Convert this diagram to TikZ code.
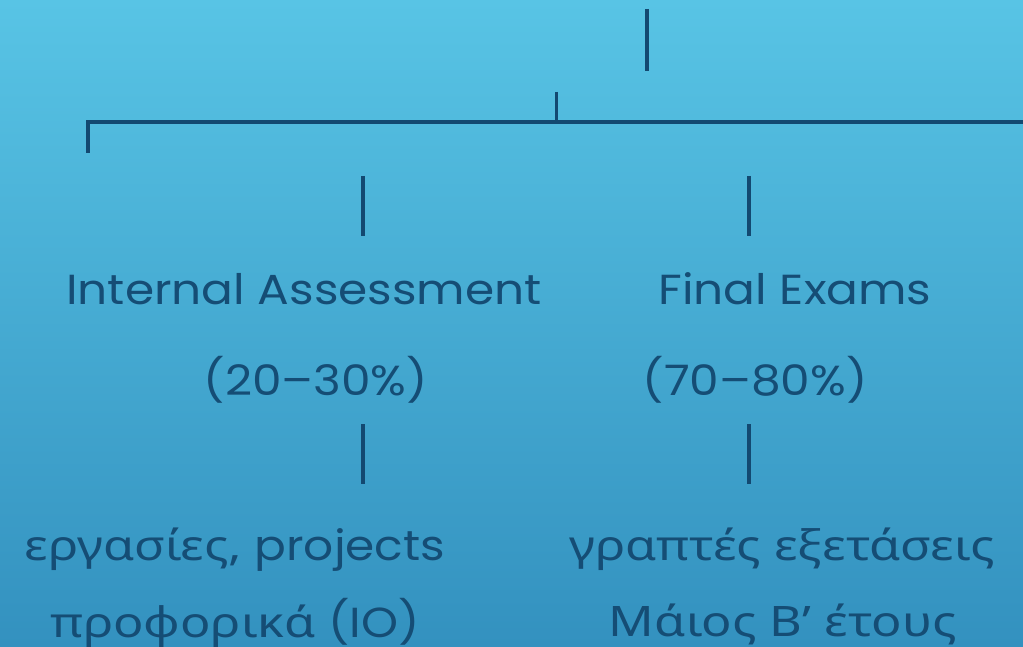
\documentclass[tikz,border=0pt]{standalone}
\usepackage{fontspec}
\setmainfont{Poppins}[FakeStretch=1.12]
\newfontfamily\greekfont{Noto Sans}[FakeStretch=1.2]
\usetikzlibrary{positioning}
\definecolor{sky top}{RGB}{88,196,229}
\definecolor{sky bottom}{RGB}{51,145,191}
\definecolor{ink colour}{RGB}{21,77,117}
\definecolor{line colour}{RGB}{19,73,113}
\tikzset{
    % Texts sit on their base line
    every node/.style={align=center},
    level text/.style={anchor=base, inner sep=0, text=ink colour,
        font=\fontsize{42}{50}\selectfont},
    % Short tree strokes
    stem/.style={draw=line colour, line width=4pt},
    bar/.style={draw=line colour, line width=4.5pt},
}

\begin{document}
\begin{tikzpicture}[x=1pt, y=-1pt]

\useasboundingbox (0,0) rectangle (1023,647);
\shade [top color=sky top, bottom color=sky bottom] (0,0) rectangle (1023,647);

% Upper part of the tree
\path
    (647,9) coordinate (root top)
    (647,71) coordinate (root foot)
    (556,92) coordinate (join top)
    (556,122) coordinate (join foot)
    (88,153) coordinate (bar left)
    (1023,122) coordinate (bar right);
\draw [stem] (root top) -- (root foot);
\draw [stem, line width=3pt] (join top) -- (join foot);
\draw [bar] (bar left) |- (bar right);

% Two branches
\path
    (304,305) node (internal) [level text] {Internal Assessment}
    (316,395) node (internal share) [level text] {(20--30\%)}
    (235,560) node (internal work) [level text] {{\greekfont εργασίες,} projects}
    (235,637) node (internal oral) [level text] {{\greekfont προφορικά} (IO)}
    (795,305) node (final) [level text] {Final Exams}
    (755,395) node (final share) [level text] {(70--80\%)}
    (782,560) node (final written) [level text] {\greekfont γραπτές εξετάσεις}
    (783,636) node (final date) [level text] {\greekfont Μάιος Β’ έτους};

\foreach \x/\name in {363/internal, 749/final} {
    \path (\x,176) coordinate (\name{} up top) (\x,236) coordinate (\name{} up foot)
        (\x,424) coordinate (\name{} down top) (\x,484) coordinate (\name{} down foot);
    \draw [stem] (\name{} up top) -- (\name{} up foot);
    \draw [stem] (\name{} down top) -- (\name{} down foot);
}

\end{tikzpicture}
\end{document}
